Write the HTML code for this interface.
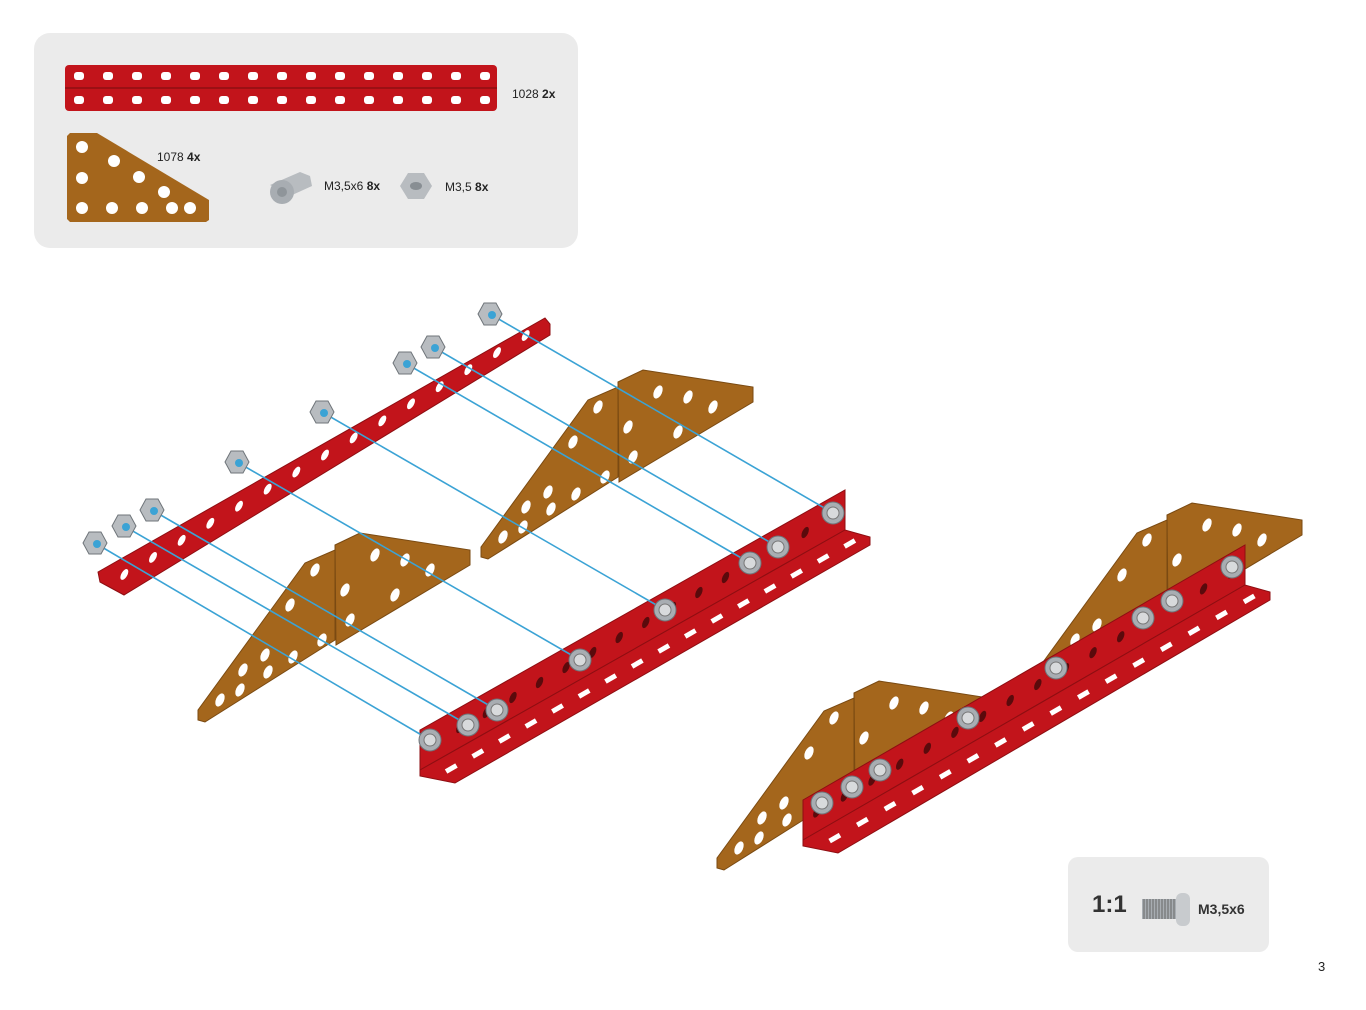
<!DOCTYPE html>
<html><head><meta charset="utf-8"><style>
html,body{margin:0;padding:0;background:#fff;}
body{width:1366px;height:1010px;position:relative;overflow:hidden;font-family:"Liberation Sans",sans-serif;}
.t{position:absolute;font-size:12px;color:#222;}
</style></head><body>
<svg id="s" width="1366" height="1010" viewBox="0 0 1366 1010" style="position:absolute;left:0;top:0">
<rect x="34" y="33" width="544" height="215" rx="16" fill="#ebebeb"/>
<rect x="65" y="65" width="432" height="46" rx="4" fill="#c2141b"/>
<line x1="65" y1="88" x2="497" y2="88" stroke="#8e0e12" stroke-width="1.5"/>
<g id="ph"></g>
<polygon points="67,136 70,133 97,133 209,200 209,220 206,222 70,222 67,219" fill="#a4661c"/>
<g fill="#fff"><circle cx="82" cy="147" r="6"/><circle cx="114" cy="161" r="6"/><circle cx="82" cy="178" r="6"/><circle cx="139" cy="177" r="6"/><circle cx="164" cy="192" r="6"/><circle cx="82" cy="208" r="6"/><circle cx="112" cy="208" r="6"/><circle cx="142" cy="208" r="6"/><circle cx="172" cy="208" r="6"/><circle cx="190" cy="208" r="6"/></g>
<g><polygon points="270,185 300,172 310,176 312,186 290,196" fill="#b8bcc0"/><circle cx="282" cy="192" r="12" fill="#a8adb2"/><circle cx="282" cy="192" r="5" fill="#8f959a"/></g>
<polygon points="400,186 408,173 424,173 432,186 424,199 408,199" fill="#b8bcc0"/><ellipse cx="416" cy="186" rx="6" ry="4" fill="#888e93"/>

<rect x="1068" y="857" width="201" height="95" rx="10" fill="#ebebeb"/>
<rect x="1142" y="899" width="36" height="20" fill="#a8adb2"/>
<g id="th"></g>
<rect x="1176" y="893" width="14" height="33" rx="6" fill="#c8cbce"/>

<g id="main"></g>
</svg>
<div class="t" style="left:512px;top:87px">1028 <b>2x</b></div>
<div class="t" style="left:157px;top:150px">1078 <b>4x</b></div>
<div class="t" style="left:324px;top:179px">M3,5x6 <b>8x</b></div>
<div class="t" style="left:445px;top:180px">M3,5 <b>8x</b></div>
<div class="t" style="left:1092px;top:891px;font-size:24px;font-weight:bold;color:#333">1:1</div>
<div class="t" style="left:1198px;top:901px;font-size:14px;font-weight:bold;color:#333">M3,5x6</div>
<div class="t" style="left:1318px;top:959px;font-size:13px">3</div>
<script>
const NS="http://www.w3.org/2000/svg";
function el(p,tag,a){const e=document.createElementNS(NS,tag);for(const k in a)e.setAttribute(k,a[k]);p.appendChild(e);return e;}
const ph=document.getElementById('ph');
for(let i=0;i<15;i++){const x=79+i*29;el(ph,'rect',{x:x-5,y:72,width:10,height:8,rx:3,fill:'#fff'});el(ph,'rect',{x:x-5,y:96,width:10,height:8,rx:3,fill:'#fff'});}
const th=document.getElementById('th');
for(let i=0;i<12;i++)el(th,'line',{x1:1144+i*3,y1:899,x2:1144+i*3,y2:919,stroke:'#666','stroke-width':1});
const m=document.getElementById('main');
const OR='#a4661c',ORD='#7a4a12',RD='#c2141b',RDD='#8e0e12';
function poly(pts,f,s){return el(m,'polygon',{points:pts,fill:f,stroke:s||'none','stroke-width':1});}
function gusset(dx,dy){
 const P=(a)=>a.map(p=>(p[0]+dx)+','+(p[1]+dy)).join(' ');
 poly(P([[198,710],[305,563],[335,550],[335,640],[205,722],[198,720]]),OR,ORD);
 poly(P([[335,545],[360,533],[470,550],[470,565],[336,645]]),OR,ORD);
 const hs=[[220,700],[243,670],[265,655],[290,605],[315,570],[345,590],[375,555],[405,560],[430,570],[350,620],[395,595],[240,690],[268,672],[293,657],[322,640]];
 hs.forEach(h=>el(m,'ellipse',{cx:h[0]+dx,cy:h[1]+dy,rx:4,ry:7,fill:'#fff',transform:`rotate(25 ${h[0]+dx} ${h[1]+dy})`}));
}
function bar(x1,y1,x2,y2){
 poly(`${x1},${y1} ${x2},${y2} ${x2},${y2+40} ${x1},${y1+40}`,RD,RDD);
 poly(`${x1},${y1+40} ${x2},${y2+40} ${x2+25},${y2+47} ${x2+25},${y2+55} ${x1+35},${y1+53} ${x1},${y1+46}`,RD,RDD);
 const n=16;for(let i=0;i<n;i++){const t=(i+0.5)/n;const x=x1+18+(x2-x1)*t,y=y1+46+(y2-y1)*t;el(m,'rect',{x:x-6,y:y-2.5,width:12,height:5,fill:'#fff',transform:`rotate(-30 ${x} ${y})`});}
 for(let i=0;i<16;i++){const t=(i+0.5)/16;const x=x1+(x2-x1)*t,y=y1+20+(y2-y1)*t;el(m,'ellipse',{cx:x,cy:y,rx:3,ry:6,fill:'#5a0a0c',transform:`rotate(25 ${x} ${y})`});}
}
function nut(x,y){el(m,'polygon',{points:`${x-12},${y} ${x-6},${y-11} ${x+6},${y-11} ${x+12},${y} ${x+6},${y+11} ${x-6},${y+11}`,fill:'#b8bcc0',stroke:'#6f757a'});el(m,'circle',{cx:x+2,cy:y+1,r:4,fill:'#3ba3d5'});}
function bolt(x,y){el(m,'circle',{cx:x,cy:y,r:11,fill:'#a8adb2',stroke:'#6f757a'});el(m,'circle',{cx:x,cy:y,r:6,fill:'#d8dadc',stroke:'#777'});}
poly('98,572 545,318 550,324 550,335 124,595 100,582',RD,RDD);
for(let i=0;i<15;i++){const t=(i+0.5)/15;const x=110+(540-110)*t,y=583+(327-583)*t;el(m,'ellipse',{cx:x,cy:y,rx:3,ry:6,fill:'#fff',transform:`rotate(30 ${x} ${y})`});}
gusset(0,0);gusset(283,-163);
bar(420,730,845,490);
const L=[[95,543,430,740],[124,526,468,725],[152,510,497,710],[237,462,580,660],[322,412,665,610],[405,363,750,563],[433,347,778,547],[490,314,833,513]];
L.forEach(l=>{el(m,'line',{x1:l[0],y1:l[1],x2:l[2],y2:l[3],stroke:'#3ba3d5','stroke-width':1.6});});
L.forEach(l=>{nut(l[0],l[1]);bolt(l[2],l[3]);});
gusset(519,148);gusset(832,-30);
bar(803,800,1245,545);
[[822,803],[852,787],[880,770],[968,718],[1056,668],[1143,618],[1172,601],[1232,567]].forEach(b=>bolt(b[0],b[1]));
</script>
</body></html>
